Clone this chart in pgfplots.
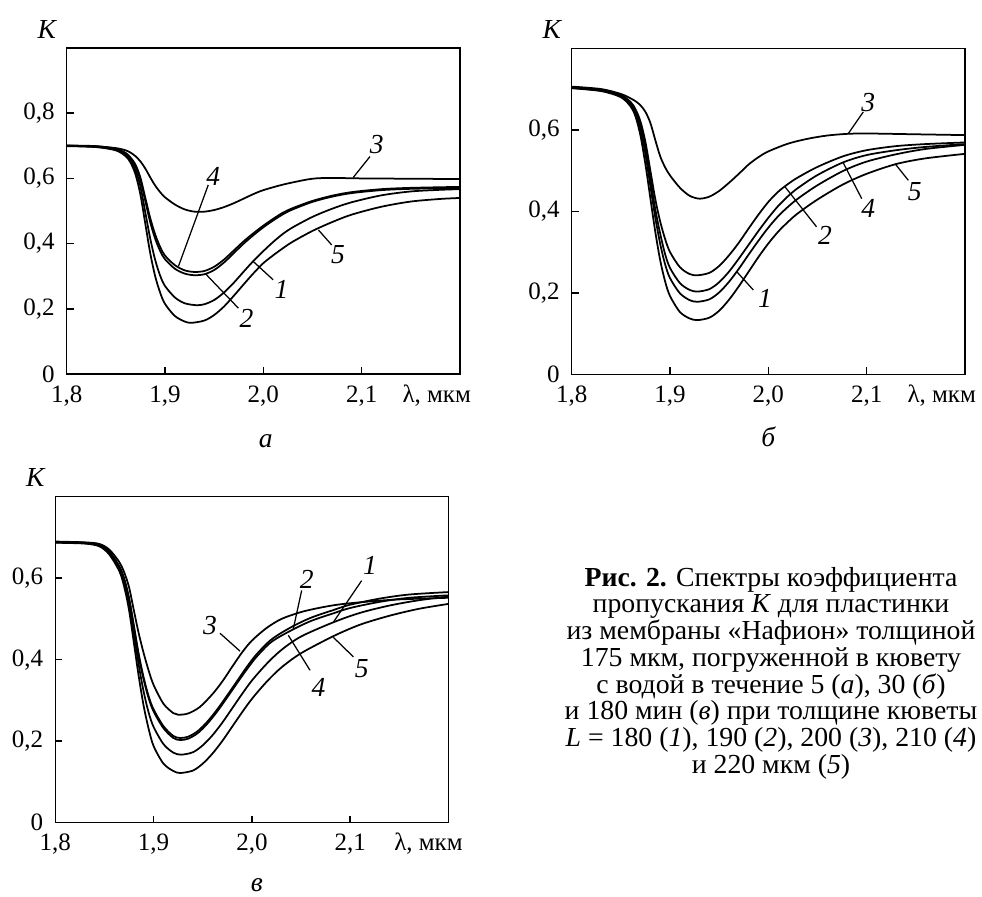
\documentclass[border=0pt]{standalone}
\usepackage{fontspec}
\setmainfont{Liberation Serif}
\newfontfamily\capfont{Liberation Serif}[FakeStretch=1.01]
\usepackage{pgfplots}
\pgfplotsset{compat=1.18}
\newcommand{\tl}{\fontsize{10}{12}\selectfont}
\newcommand{\nl}{\fontsize{11}{13}\selectfont\itshape}
\pgfplotsset{
  panel/.style={
    width=157.3pt, height=130.4pt, scale only axis,
    xmin=1.8, xmax=2.2, ymin=0,
    clip=false,
    axis line style={line width=0.6pt},
    tick pos=left, tick align=inside,
    major tick length=2.8pt,
    tick style={line width=0.6pt, black},
    xtick={1.8,1.9,2.0,2.1},
    xticklabels={{1,8},{1,9},{2,0},{2,1}},
    xticklabel style={anchor=base, yshift=-11.3pt},
    yticklabel style={xshift=-1.3pt},
    ticklabel style={font=\tl},
    cycle list={black,line width=0.7pt,smooth\\},
  },
}
\tikzset{lab/.style={line width=0.5pt}}
\begin{document}
\begin{tikzpicture}
\useasboundingbox (0,0) rectangle (392.8pt,-358.4pt);

% ---------- panel a ----------
\begin{axis}[panel, at={(26.68pt,-149.6pt)}, ymax=1,
  ytick={0,0.2,0.4,0.6,0.8}, yticklabels={0,{0,2},{0,4},{0,6},{0,8}}]
\addplot coordinates {(1.80,0.700)(1.83,0.697)(1.85,0.688)(1.86,0.673)(1.865,0.655)(1.87,0.625)(1.875,0.575)(1.88,0.495)(1.885,0.415)(1.89,0.350)(1.895,0.302)(1.90,0.270)(1.91,0.235)(1.92,0.217)(1.932,0.211)(1.94,0.214)(1.95,0.227)(1.96,0.250)(1.97,0.280)(1.98,0.314)(1.99,0.347)(2.00,0.377)(2.01,0.405)(2.02,0.430)(2.03,0.450)(2.05,0.482)(2.07,0.507)(2.09,0.527)(2.12,0.548)(2.15,0.560)(2.18,0.565)(2.20,0.567)};
\addplot coordinates {(1.80,0.700)(1.83,0.698)(1.85,0.689)(1.86,0.675)(1.865,0.660)(1.87,0.637)(1.875,0.595)(1.88,0.530)(1.885,0.465)(1.89,0.415)(1.895,0.378)(1.90,0.352)(1.91,0.323)(1.92,0.308)(1.93,0.303)(1.94,0.306)(1.95,0.319)(1.96,0.342)(1.97,0.371)(1.98,0.400)(1.99,0.426)(2.00,0.450)(2.01,0.471)(2.02,0.490)(2.03,0.505)(2.05,0.528)(2.07,0.544)(2.09,0.555)(2.12,0.564)(2.15,0.568)(2.20,0.571)};
\addplot coordinates {(1.80,0.700)(1.83,0.698)(1.85,0.693)(1.86,0.686)(1.865,0.679)(1.87,0.668)(1.875,0.652)(1.88,0.630)(1.885,0.603)(1.89,0.578)(1.895,0.558)(1.90,0.542)(1.91,0.520)(1.92,0.505)(1.93,0.498)(1.94,0.498)(1.95,0.503)(1.96,0.512)(1.97,0.524)(1.98,0.538)(1.99,0.552)(2.00,0.564)(2.02,0.581)(2.04,0.594)(2.05,0.599)(2.06,0.601)(2.08,0.601)(2.10,0.600)(2.15,0.599)(2.20,0.598)};
\addplot coordinates {(1.80,0.701)(1.83,0.699)(1.85,0.691)(1.86,0.678)(1.865,0.664)(1.87,0.642)(1.875,0.602)(1.88,0.540)(1.885,0.478)(1.89,0.428)(1.895,0.390)(1.90,0.363)(1.91,0.334)(1.92,0.318)(1.93,0.313)(1.94,0.316)(1.95,0.329)(1.96,0.351)(1.97,0.379)(1.98,0.407)(1.99,0.432)(2.00,0.455)(2.01,0.476)(2.02,0.495)(2.03,0.509)(2.05,0.531)(2.07,0.547)(2.09,0.558)(2.12,0.567)(2.15,0.571)(2.20,0.574)};
\addplot coordinates {(1.80,0.699)(1.83,0.696)(1.85,0.686)(1.86,0.668)(1.865,0.648)(1.87,0.612)(1.875,0.550)(1.88,0.460)(1.885,0.370)(1.89,0.300)(1.895,0.250)(1.90,0.215)(1.91,0.178)(1.92,0.161)(1.927,0.157)(1.94,0.164)(1.95,0.181)(1.96,0.207)(1.97,0.240)(1.98,0.275)(1.99,0.309)(2.00,0.340)(2.01,0.364)(2.02,0.386)(2.03,0.406)(2.05,0.439)(2.07,0.466)(2.09,0.489)(2.12,0.513)(2.15,0.529)(2.18,0.537)(2.20,0.540)};
\draw[lab] (axis cs:2.1085,0.667) -- (axis cs:2.0915,0.603);
\node[font=\nl] at (axis cs:2.1153,0.703) {3};
\draw[lab] (axis cs:1.944,0.580) -- (axis cs:1.9136,0.330);
\node[font=\nl] at (axis cs:1.949,0.606) {4};
\draw[lab] (axis cs:1.9746,0.202) -- (axis cs:1.9407,0.309);
\node[font=\nl] at (axis cs:1.983,0.172) {2};
\draw[lab] (axis cs:2.010,0.289) -- (axis cs:1.9898,0.345);
\node[font=\nl] at (axis cs:2.0186,0.258) {1};
\draw[lab] (axis cs:2.0695,0.396) -- (axis cs:2.056,0.442);
\node[font=\nl] at (axis cs:2.076,0.366) {5};
\node[font=\nl] at (rel axis cs:0,1) [xshift=-8pt, yshift=7.6pt] {K};
\node[font=\tl, anchor=base] at (rel axis cs:0.941,0) [yshift=-11.3pt] {λ, мкм};
\node[font=\nl, anchor=base] at (rel axis cs:0.5,0) [xshift=1pt, yshift=-29.2pt] {а};
\end{axis}

% ---------- panel b ----------
\begin{axis}[panel, at={(228.68pt,-149.72pt)}, ymax=0.8,
  ytick={0,0.2,0.4,0.6}, yticklabels={0,{0,2},{0,4},{0,6}}]
\addplot coordinates {(1.80,0.703)(1.83,0.696)(1.85,0.683)(1.86,0.662)(1.865,0.640)(1.87,0.600)(1.875,0.540)(1.88,0.462)(1.885,0.385)(1.89,0.320)(1.895,0.270)(1.90,0.236)(1.91,0.199)(1.92,0.182)(1.928,0.178)(1.94,0.184)(1.95,0.201)(1.96,0.227)(1.97,0.259)(1.98,0.294)(1.99,0.328)(2.00,0.360)(2.01,0.388)(2.02,0.411)(2.03,0.431)(2.05,0.464)(2.076,0.499)(2.10,0.522)(2.13,0.540)(2.16,0.553)(2.20,0.563)};
\addplot coordinates {(1.80,0.705)(1.83,0.698)(1.85,0.685)(1.86,0.668)(1.865,0.650)(1.87,0.620)(1.875,0.570)(1.88,0.500)(1.885,0.430)(1.89,0.375)(1.895,0.332)(1.90,0.300)(1.91,0.263)(1.92,0.246)(1.928,0.243)(1.94,0.249)(1.95,0.266)(1.96,0.292)(1.97,0.323)(1.98,0.358)(1.99,0.392)(2.00,0.423)(2.01,0.448)(2.02,0.467)(2.03,0.483)(2.05,0.509)(2.076,0.535)(2.10,0.550)(2.13,0.560)(2.16,0.565)(2.20,0.569)};
\addplot coordinates {(1.80,0.706)(1.83,0.700)(1.85,0.688)(1.86,0.677)(1.865,0.670)(1.87,0.660)(1.875,0.644)(1.88,0.617)(1.885,0.575)(1.89,0.535)(1.895,0.508)(1.90,0.488)(1.91,0.458)(1.92,0.438)(1.93,0.431)(1.94,0.436)(1.95,0.450)(1.96,0.470)(1.97,0.492)(1.98,0.515)(1.99,0.533)(2.00,0.547)(2.02,0.566)(2.04,0.578)(2.06,0.586)(2.08,0.590)(2.10,0.591)(2.15,0.589)(2.20,0.587)};
\addplot coordinates {(1.80,0.704)(1.83,0.697)(1.85,0.684)(1.86,0.665)(1.865,0.645)(1.87,0.610)(1.875,0.555)(1.88,0.480)(1.885,0.405)(1.89,0.345)(1.895,0.295)(1.90,0.261)(1.91,0.224)(1.92,0.207)(1.928,0.203)(1.94,0.209)(1.95,0.226)(1.96,0.252)(1.97,0.284)(1.98,0.318)(1.99,0.352)(2.00,0.384)(2.01,0.413)(2.02,0.437)(2.03,0.457)(2.05,0.489)(2.076,0.520)(2.10,0.538)(2.13,0.550)(2.16,0.558)(2.20,0.565)};
\addplot coordinates {(1.80,0.702)(1.83,0.695)(1.85,0.680)(1.86,0.657)(1.865,0.632)(1.87,0.585)(1.875,0.515)(1.88,0.432)(1.885,0.350)(1.89,0.280)(1.895,0.228)(1.90,0.192)(1.91,0.153)(1.92,0.137)(1.928,0.133)(1.94,0.139)(1.95,0.156)(1.96,0.183)(1.97,0.216)(1.98,0.252)(1.99,0.288)(2.00,0.321)(2.01,0.350)(2.02,0.374)(2.03,0.395)(2.05,0.429)(2.076,0.466)(2.10,0.492)(2.13,0.516)(2.16,0.530)(2.20,0.541)};
\draw[lab] (axis cs:2.0966,0.644) -- (axis cs:2.0814,0.591);
\node[font=\nl] at (axis cs:2.1017,0.668) {3};
\draw[lab] (axis cs:2.049,0.362) -- (axis cs:2.017,0.460);
\node[font=\nl] at (axis cs:2.0576,0.342) {2};
\draw[lab] (axis cs:2.095,0.431) -- (axis cs:2.076,0.520);
\node[font=\nl] at (axis cs:2.1017,0.407) {4};
\draw[lab] (axis cs:2.1424,0.476) -- (axis cs:2.1288,0.517);
\node[font=\nl] at (axis cs:2.149,0.448) {5};
\draw[lab] (axis cs:1.9847,0.207) -- (axis cs:1.9678,0.252);
\node[font=\nl] at (axis cs:1.9966,0.186) {1};
\node[font=\nl] at (rel axis cs:0,1) [xshift=-8pt, yshift=7.6pt] {K};
\node[font=\tl, anchor=base] at (rel axis cs:0.941,0) [yshift=-11.3pt] {λ, мкм};
\node[font=\nl, anchor=base] at (rel axis cs:0.5,0) [xshift=0pt, yshift=-29pt] {б};
\end{axis}

% ---------- panel c ----------
\begin{axis}[panel, at={(22.12pt,-329.08pt)}, ymax=0.8,
  ytick={0,0.2,0.4,0.6}, yticklabels={0,{0,2},{0,4},{0,6}}]
\addplot coordinates {(1.80,0.688)(1.83,0.686)(1.845,0.680)(1.855,0.662)(1.865,0.625)(1.87,0.592)(1.875,0.540)(1.88,0.462)(1.885,0.385)(1.89,0.320)(1.895,0.270)(1.90,0.235)(1.91,0.193)(1.92,0.172)(1.928,0.167)(1.94,0.173)(1.95,0.190)(1.96,0.215)(1.97,0.246)(1.98,0.281)(1.99,0.316)(2.00,0.349)(2.015,0.390)(2.03,0.424)(2.05,0.457)(2.083,0.492)(2.11,0.515)(2.14,0.533)(2.17,0.546)(2.20,0.555)};
\addplot coordinates {(1.80,0.689)(1.83,0.687)(1.845,0.682)(1.855,0.665)(1.865,0.630)(1.87,0.600)(1.875,0.552)(1.88,0.483)(1.885,0.412)(1.89,0.355)(1.895,0.310)(1.90,0.278)(1.91,0.237)(1.92,0.213)(1.927,0.208)(1.935,0.211)(1.945,0.225)(1.955,0.249)(1.965,0.279)(1.975,0.313)(1.985,0.348)(1.995,0.383)(2.005,0.414)(2.02,0.450)(2.04,0.480)(2.06,0.503)(2.083,0.522)(2.10,0.535)(2.13,0.550)(2.16,0.560)(2.20,0.566)};
\addplot coordinates {(1.80,0.690)(1.83,0.688)(1.845,0.684)(1.855,0.670)(1.865,0.640)(1.87,0.615)(1.875,0.578)(1.88,0.520)(1.885,0.463)(1.89,0.415)(1.895,0.373)(1.90,0.338)(1.91,0.292)(1.92,0.269)(1.925,0.265)(1.935,0.268)(1.947,0.284)(1.96,0.316)(1.97,0.347)(1.98,0.383)(1.99,0.418)(2.00,0.447)(2.015,0.478)(2.03,0.500)(2.05,0.517)(2.07,0.528)(2.09,0.536)(2.12,0.543)(2.15,0.548)(2.20,0.552)};
\addplot coordinates {(1.80,0.689)(1.83,0.687)(1.845,0.682)(1.855,0.664)(1.865,0.628)(1.87,0.597)(1.875,0.548)(1.88,0.478)(1.885,0.406)(1.89,0.350)(1.895,0.305)(1.90,0.273)(1.91,0.232)(1.92,0.208)(1.927,0.203)(1.935,0.206)(1.945,0.220)(1.955,0.244)(1.965,0.274)(1.975,0.308)(1.985,0.343)(1.995,0.377)(2.005,0.408)(2.02,0.444)(2.04,0.472)(2.06,0.495)(2.083,0.514)(2.10,0.527)(2.13,0.542)(2.16,0.552)(2.20,0.558)};
\addplot coordinates {(1.80,0.687)(1.83,0.685)(1.845,0.678)(1.855,0.658)(1.865,0.618)(1.87,0.580)(1.875,0.522)(1.88,0.440)(1.885,0.357)(1.89,0.285)(1.895,0.230)(1.90,0.188)(1.91,0.145)(1.92,0.127)(1.927,0.122)(1.94,0.128)(1.95,0.145)(1.96,0.170)(1.97,0.201)(1.98,0.236)(1.99,0.271)(2.00,0.304)(2.015,0.346)(2.03,0.381)(2.05,0.416)(2.083,0.458)(2.11,0.486)(2.14,0.508)(2.17,0.525)(2.20,0.537)};
\draw[lab] (axis cs:1.9675,0.465) -- (axis cs:1.9879,0.421);
\node[font=\nl] at (axis cs:1.9573,0.484) {3};
\draw[lab] (axis cs:2.0506,0.570) -- (axis cs:2.0421,0.476);
\node[font=\nl] at (axis cs:2.0557,0.598) {2};
\draw[lab] (axis cs:2.0591,0.374) -- (axis cs:2.037,0.460);
\node[font=\nl] at (axis cs:2.0676,0.333) {4};
\draw[lab] (axis cs:2.1116,0.594) -- (axis cs:2.0828,0.492);
\node[font=\nl] at (axis cs:2.12,0.631) {1};
\draw[lab] (axis cs:2.1032,0.407) -- (axis cs:2.0828,0.455);
\node[font=\nl] at (axis cs:2.1116,0.378) {5};
\node[font=\nl] at (rel axis cs:0,1) [xshift=-8pt, yshift=7.6pt] {K};
\node[font=\tl, anchor=base] at (rel axis cs:0.949,0) [yshift=-11.3pt] {λ, мкм};
\node[font=\nl, anchor=base] at (rel axis cs:0.5,0) [xshift=2pt, yshift=-27.6pt] {в};
\end{axis}

% ---------- caption ----------
\begin{scope}[every node/.style={anchor=base, font=\capfont\fontsize{11}{13}\selectfont, inner sep=0pt}]
\node at (308.4pt,-234.4pt) {\textbf{Рис. 2.} Спектры коэффициента};
\node at (308.4pt,-245.1pt) {пропускания \textit{K} для пластинки};
\node at (308.4pt,-255.8pt) {из мембраны «Нафион» толщиной};
\node at (308.4pt,-266.5pt) {175 мкм, погруженной в кювету};
\node at (308.4pt,-277.2pt) {с водой в течение 5 (\textit{а}), 30 (\textit{б})};
\node at (308.4pt,-287.9pt) {и 180 мин (\textit{в}) при толщине кюветы};
\node at (308.4pt,-298.6pt) {\textit{L} = 180 (\textit{1}), 190 (\textit{2}), 200 (\textit{3}), 210 (\textit{4})};
\node at (308.4pt,-309.3pt) {и 220 мкм (\textit{5})};
\end{scope}
\end{tikzpicture}
\end{document}
